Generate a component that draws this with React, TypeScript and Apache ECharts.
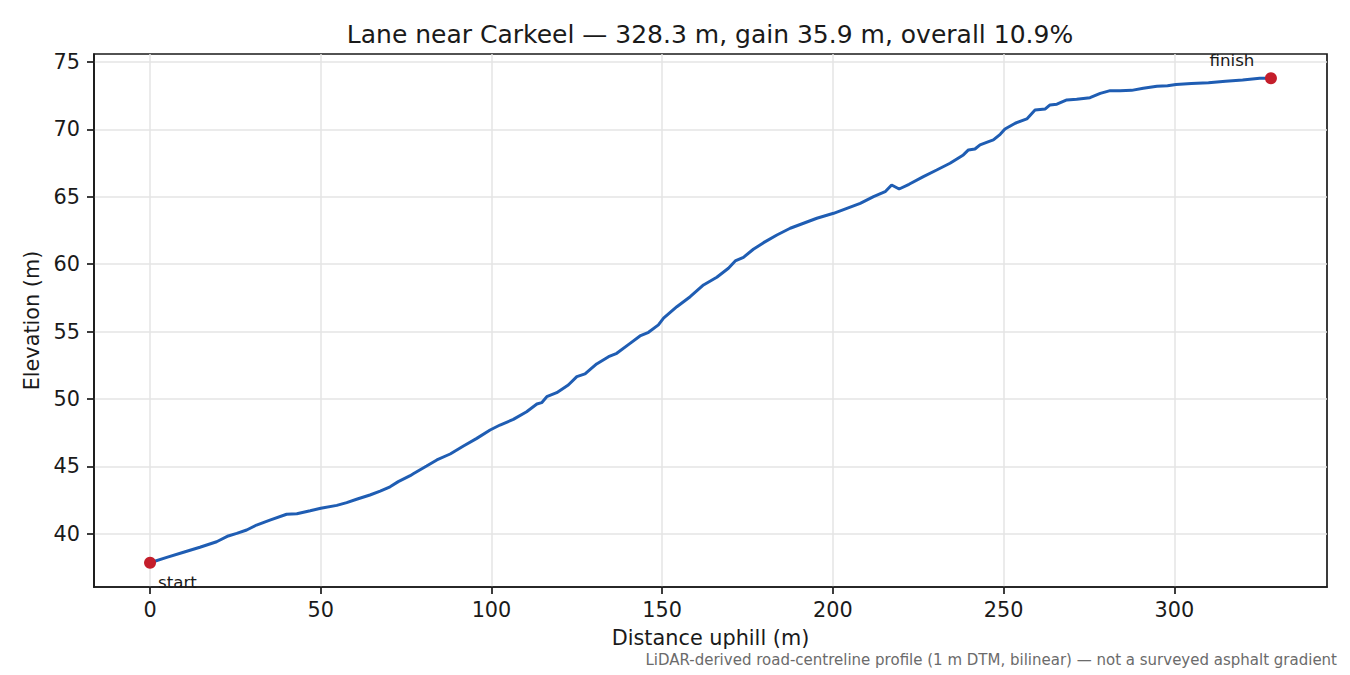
import React, { useEffect, useRef } from "react";
import * as echarts from "echarts";

const TITLE = "Lane near Carkeel — 328.3 m, gain 35.9 m, overall 10.9%";
const X_NAME = "Distance uphill (m)";
const Y_NAME = "Elevation (m)";
const FOOTNOTE =
  "LiDAR-derived road-centreline profile (1 m DTM, bilinear) — not a surveyed asphalt gradient";
const ENDPOINT_LABELS = ["start", "finish"];

const X_TICKS = [0, 50, 100, 150, 200, 250, 300];
const Y_TICKS = [40, 45, 50, 55, 60, 65, 70, 75];

const DISTANCE = [
  0, 4.9, 9.8, 14.6, 19.5, 22.9, 25.4, 28.3, 31.2, 35.1, 40.0, 43.0, 46.9, 50.0, 54.7, 57.6, 60.5,
  64.4, 67.4, 70.3, 72.7, 76.2, 77.1, 81.0, 84.0, 87.9, 91.8, 95.7, 99.6, 102.5, 106.4, 110.3,
  113.3, 114.7, 116.2, 119.1, 122.5, 125.0, 127.4, 130.8, 134.3, 136.7, 140.6, 143.5, 146.0,
  148.9, 150.4, 154.3, 158.2, 162.1, 166.0, 169.4, 171.4, 173.8, 176.7, 179.7, 183.6, 187.5,
  191.4, 195.3, 200.2, 204.1, 208.0, 211.9, 215.3, 217.2, 219.4, 222.3, 226.5, 230.4, 234.3,
  238.2, 239.7, 241.6, 243.1, 245.6, 247.0, 249.0, 250.4, 253.4, 256.8, 259.2, 262.2, 263.6,
  265.6, 268.5, 271.4, 275.3, 278.3, 281.2, 284.1, 287.5, 290.9, 294.9, 298.0, 300.5, 305.0,
  310.0, 315.0, 320.0, 325.0, 328.3,
];
const ELEVATION = [
  37.85, 38.25, 38.63, 39.0, 39.41, 39.84, 40.03, 40.28, 40.65, 41.02, 41.45, 41.49, 41.71,
  41.89, 42.11, 42.31, 42.56, 42.88, 43.17, 43.49, 43.87, 44.31, 44.45, 45.03, 45.48, 45.92,
  46.51, 47.08, 47.7, 48.07, 48.49, 49.06, 49.63, 49.73, 50.17, 50.47, 51.04, 51.66, 51.86,
  52.6, 53.14, 53.39, 54.13, 54.68, 54.95, 55.5, 56.0, 56.85, 57.59, 58.46, 59.03, 59.7, 60.24,
  60.51, 61.11, 61.6, 62.17, 62.67, 63.04, 63.41, 63.78, 64.15, 64.52, 65.01, 65.38, 65.88,
  65.58, 65.93, 66.5, 66.99, 67.49, 68.11, 68.48, 68.55, 68.85, 69.09, 69.22, 69.64, 70.03,
  70.46, 70.78, 71.44, 71.52, 71.82, 71.87, 72.19, 72.24, 72.36, 72.68, 72.88, 72.88, 72.9,
  73.05, 73.2, 73.25, 73.33, 73.4, 73.47, 73.57, 73.67, 73.8, 73.8,
];

const FONT = "DejaVu Sans";
const INK = "#1a1a1a";

export default function App() {
  const ref = useRef<HTMLDivElement>(null);

  useEffect(() => {
    if (!ref.current) return;
    const chart = echarts.init(ref.current, null, { renderer: "svg" });

    const xMin = Math.min(...DISTANCE);
    const xMax = Math.max(...DISTANCE);
    const yMin = Math.min(...ELEVATION);
    const yMax = Math.max(...ELEVATION);
    const xPad = (xMax - xMin) * 0.05;
    const yPad = (yMax - yMin) * 0.05;

    const lineData = DISTANCE.map((d, i) => [d, ELEVATION[i]]);
    const last = DISTANCE.length - 1;

    const axisCommon = {
      type: "value" as const,
      axisLine: { show: true, onZero: false, lineStyle: { color: INK, width: 1.7 } },
      axisTick: { show: true, length: 7, lineStyle: { color: INK, width: 1.7 } },
      splitLine: { show: true, lineStyle: { color: "#e4e4e4", width: 1.5 } },
      nameLocation: "middle" as const,
      nameTextStyle: { fontSize: 20.8, color: INK, fontFamily: FONT },
    };

    const labelStyle = { fontSize: 16.7, fontFamily: FONT, color: INK };

    chart.setOption({
      animation: false,
      backgroundColor: "#ffffff",
      grid: {
        left: 94,
        right: 23,
        top: 54,
        bottom: 88,
        show: true,
        borderColor: INK,
        borderWidth: 1.7,
        containLabel: false,
      },
      xAxis: {
        ...axisCommon,
        min: xMin - xPad,
        max: xMax + xPad,
        name: X_NAME,
        nameGap: 40,
        axisTick: { ...axisCommon.axisTick, customValues: X_TICKS },
        axisLabel: {
          customValues: X_TICKS,
          fontSize: 20.8,
          color: INK,
          fontFamily: FONT,
          margin: 12,
        },
      },
      yAxis: {
        ...axisCommon,
        min: yMin - yPad,
        max: yMax + yPad,
        name: Y_NAME,
        nameGap: 50,
        axisTick: { ...axisCommon.axisTick, customValues: Y_TICKS },
        axisLabel: {
          customValues: Y_TICKS,
          fontSize: 20.8,
          color: INK,
          fontFamily: FONT,
          margin: 14,
        },
      },
      graphic: [
        {
          type: "text",
          x: 710,
          y: 34,
          style: {
            text: TITLE,
            fontSize: 25,
            fontFamily: FONT,
            fill: INK,
            align: "center",
            verticalAlign: "middle",
          },
        },
        {
          type: "text",
          x: 1337,
          y: 660,
          style: {
            text: FOOTNOTE,
            fontSize: 15,
            fontFamily: FONT,
            fill: "#6b6b6b",
            align: "right",
            verticalAlign: "middle",
          },
        },
      ],
      series: [
        {
          type: "line",
          data: lineData,
          showSymbol: false,
          symbol: "none",
          lineStyle: { color: "#1f5db3", width: 3 },
          z: 2,
        },
        {
          type: "scatter",
          symbolSize: 12,
          itemStyle: { color: "#c41e2b", opacity: 1 },
          z: 3,
          data: [
            {
              value: [DISTANCE[0], ELEVATION[0]],
              label: {
                show: true,
                formatter: ENDPOINT_LABELS[0],
                position: [14, 25],
                align: "left",
                verticalAlign: "middle",
                ...labelStyle,
              },
            },
            {
              value: [DISTANCE[last], ELEVATION[last]],
              label: {
                show: true,
                formatter: ENDPOINT_LABELS[1],
                position: [-33, -12],
                align: "center",
                verticalAlign: "middle",
                ...labelStyle,
              },
            },
          ],
        },
      ],
    });

    return () => chart.dispose();
  }, []);

  return (
    <div
      ref={ref}
      style={{ position: "fixed", left: 0, top: 0, width: 1350, height: 675, background: "#fff" }}
    />
  );
}
